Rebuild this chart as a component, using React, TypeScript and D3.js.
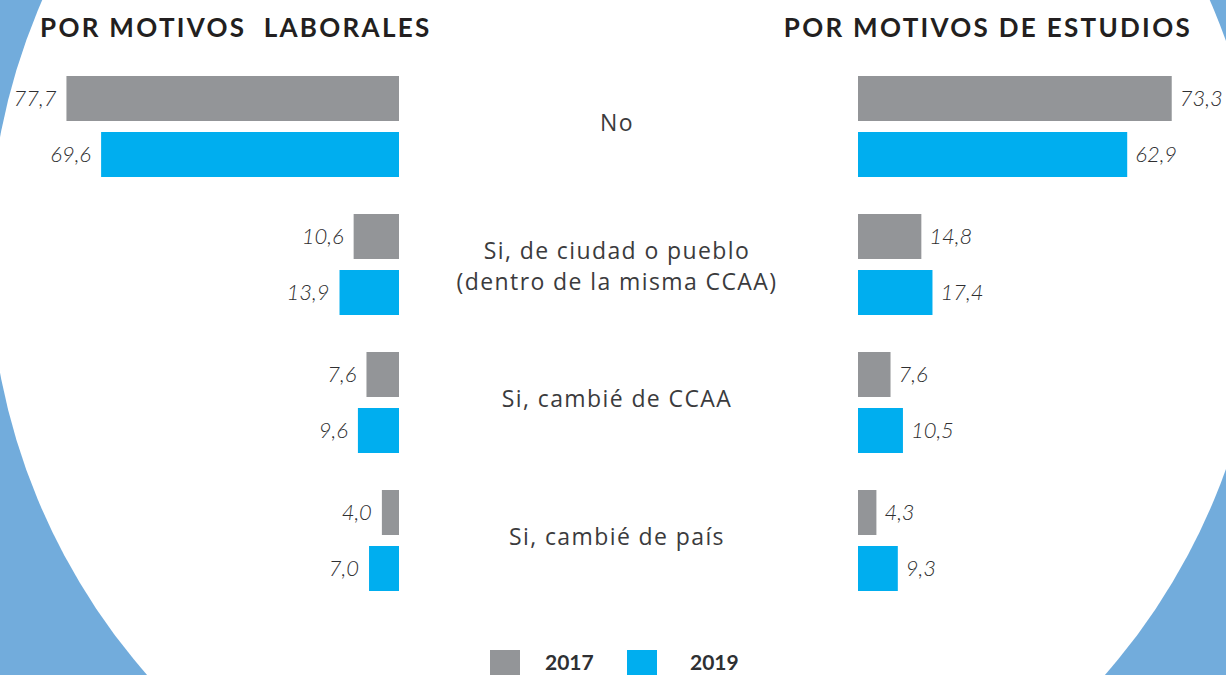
import React, { useEffect, useRef } from "react";
import * as d3 from "d3";

const categories = [
  "No",
  "Si, de ciudad o pueblo\n(dentro de la misma CCAA)",
  "Si, cambié de CCAA",
  "Si, cambié de país",
];
const years = ["2017", "2019"];
const laborales2017 = [77.7, 10.6, 7.6, 4.0];
const laborales2019 = [69.6, 13.9, 9.6, 7.0];
const estudios2017 = [73.3, 14.8, 7.6, 4.3];
const estudios2019 = [62.9, 17.4, 10.5, 9.3];

const App = () => {
  const svgRef = useRef<SVGSVGElement>(null);

  useEffect(() => {
    document.body.style.margin = "0";
    const width = 1226,
      height = 675;
    const gray = "#939598",
      cyan = "#00aeef",
      bgBlue = "#72acdc",
      textColor = "#3b3b3d";

    const svg = d3
      .select(svgRef.current)
      .attr("width", width)
      .attr("height", height)
      .html("");

    // background with big white circle
    svg.append("rect").attr("width", width).attr("height", height).attr("fill", bgBlue);
    svg.append("circle").attr("cx", 626).attr("cy", 255).attr("r", 637).attr("fill", "#fff");

    const x = d3.scaleLinear().domain([0, 80]).range([0, 342.4]);
    const y = d3
      .scaleBand()
      .domain(categories)
      .range([76, 591])
      .paddingInner(37 / 138)
      .paddingOuter(0);
    const yInner = d3
      .scaleBand()
      .domain(years)
      .range([0, y.bandwidth()])
      .paddingInner(11 / 56);
    const color = d3.scaleOrdinal<string>().domain(years).range([gray, cyan]);

    const leftEdge = 399,
      rightEdge = 858;
    const fmt = (v: number) => d3.format(".1f")(v).replace(".", ",");

    const panels = [
      { side: "left", data: [laborales2017, laborales2019] },
      { side: "right", data: [estudios2017, estudios2019] },
    ];

    panels.forEach((p) => {
      const g = svg.append("g");
      years.forEach((yr, yi) => {
        const vals = p.data[yi];
        categories.forEach((cat, ci) => {
          const v = vals[ci];
          const top = (y(cat) as number) + (yInner(yr) as number);
          const w = x(v);
          const bx = p.side === "left" ? leftEdge - w : rightEdge;
          g.append("rect")
            .attr("x", bx)
            .attr("y", top)
            .attr("width", w)
            .attr("height", yInner.bandwidth())
            .attr("fill", color(yr));
          g.append("text")
            .attr("x", p.side === "left" ? bx - 10 : bx + w + 8)
            .attr("y", top + yInner.bandwidth() / 2)
            .attr("dy", "0.35em")
            .attr("text-anchor", p.side === "left" ? "end" : "start")
            .style("font-family", "Lato, sans-serif")
            .style("font-style", "italic")
            .style("font-weight", 300)
            .style("font-size", "22px")
            .style("fill", "#2f2f31")
            .text(fmt(v));
        });
      });
    });

    // category labels
    categories.forEach((cat) => {
      const lines = cat.split("\n");
      const cy = (y(cat) as number) + y.bandwidth() / 2 + (lines.length > 1 ? 2 : -4);
      const lh = 31;
      lines.forEach((ln, i) => {
        svg
          .append("text")
          .attr("x", 617)
          .attr("y", cy + (i - (lines.length - 1) / 2) * lh)
          .attr("dy", "0.35em")
          .attr("text-anchor", "middle")
          .style("font-family", "'Open Sans', sans-serif")
          .style("font-size", "23px")
          .style("letter-spacing", "1.4px")
          .style("fill", textColor)
          .text(ln);
      });
    });

    // titles
    const titleStyle = (t: d3.Selection<SVGTextElement, unknown, null, undefined>) =>
      t
        .style("font-family", "Lato, sans-serif")
        .style("font-weight", 700)
        .style("font-size", "26px")
        .style("letter-spacing", "2.3px")
        .style("white-space", "pre")
        .style("fill", "#231f20");
    svg.append("text").attr("x", 40).attr("y", 37).text("POR MOTIVOS  LABORALES").call(titleStyle);
    svg
      .append("text")
      .attr("x", 1192)
      .attr("y", 37)
      .attr("text-anchor", "end")
      .text("POR MOTIVOS DE ESTUDIOS")
      .call(titleStyle);

    // legend
    const legend = [
      { year: "2017", box: 490, label: 545 },
      { year: "2019", box: 627, label: 690 },
    ];
    legend.forEach((l) => {
      svg.append("rect").attr("x", l.box).attr("y", 650).attr("width", 30).attr("height", 26).attr("fill", color(l.year));
      svg
        .append("text")
        .attr("x", l.label)
        .attr("y", 670)
        .style("font-family", "Lato, sans-serif")
        .style("font-weight", 700)
        .style("font-size", "21px")
        .style("fill", "#2e3033")
        .text(l.year);
    });
  }, []);

  return <svg ref={svgRef} style={{ display: "block" }}></svg>;
};

export default App;
